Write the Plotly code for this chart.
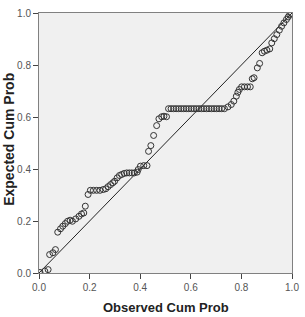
import plotly.graph_objects as go

observed = [0.004, 0.023, 0.036, 0.042, 0.055, 0.065,
            0.074, 0.085, 0.094, 0.104, 0.113, 0.123, 0.132, 0.145, 0.158, 0.168, 0.177,
            0.183, 0.194,
            0.203, 0.215, 0.228, 0.241, 0.254, 0.264, 0.273, 0.283, 0.292, 0.299, 0.309,
            0.318, 0.327, 0.337, 0.347, 0.357, 0.367, 0.377, 0.388, 0.392, 0.401, 0.414, 0.427,
            0.433, 0.442, 0.453, 0.465, 0.474, 0.485, 0.494, 0.504,
            0.512, 0.522, 0.532, 0.542, 0.552, 0.562, 0.572, 0.582, 0.592, 0.602, 0.612,
            0.622, 0.632, 0.642, 0.652, 0.662, 0.672, 0.682, 0.692, 0.702, 0.712, 0.722, 0.733,
            0.747, 0.760, 0.770, 0.780, 0.786, 0.792, 0.801, 0.812, 0.824, 0.835,
            0.843, 0.850, 0.863, 0.872,
            0.882, 0.891, 0.901, 0.912, 0.920, 0.930, 0.940, 0.950, 0.959, 0.968, 0.978,
            0.985, 0.991, 0.997]

expected = [0.002, 0.007, 0.013, 0.071, 0.078, 0.090,
            0.157, 0.170, 0.180, 0.190, 0.199, 0.203, 0.199, 0.208, 0.218, 0.227, 0.231,
            0.257, 0.302,
            0.318, 0.318, 0.318, 0.318, 0.321, 0.324, 0.332, 0.340, 0.347, 0.353, 0.366,
            0.375, 0.379, 0.383, 0.385, 0.385, 0.385, 0.385, 0.388, 0.398, 0.411, 0.413, 0.413,
            0.468, 0.490, 0.529, 0.567, 0.593, 0.601, 0.603, 0.601,
            0.632, 0.632, 0.632, 0.632, 0.632, 0.632, 0.632, 0.632, 0.632, 0.632, 0.632,
            0.632, 0.632, 0.632, 0.632, 0.632, 0.632, 0.632, 0.632, 0.632, 0.632, 0.632, 0.632,
            0.639, 0.648, 0.661, 0.680, 0.695, 0.706, 0.716, 0.716, 0.716, 0.716,
            0.747, 0.751, 0.789, 0.806,
            0.847, 0.853, 0.857, 0.862, 0.885, 0.901, 0.917, 0.934, 0.949, 0.962, 0.975,
            0.985, 0.994, 0.998]

ref_line = [0.0, 1.0]
tick_vals = [0.0, 0.2, 0.4, 0.6, 0.8, 1.0]
tick_text = ["0.0", "0.2", "0.4", "0.6", "0.8", "1.0"]

fig = go.Figure()
fig.add_trace(go.Scatter(x=ref_line, y=ref_line, mode="lines",
                         line=dict(color="#222222", width=1), hoverinfo="skip"))
fig.add_trace(go.Scatter(x=observed, y=expected, mode="markers",
                         marker=dict(symbol="circle-open", size=6, color="#333333",
                                     line=dict(color="#333333", width=1))))

axis_common = dict(range=[0, 1], tickvals=tick_vals, ticktext=tick_text,
                   showgrid=False, zeroline=False, showline=True, mirror=True,
                   linecolor="#808080", linewidth=1, ticks="outside", ticklen=5,
                   tickcolor="#444444", ticklabeloverflow="allow",
                   tickfont=dict(family="Liberation Sans, Arial", size=10, color="#555555"))

W, H = 305, 317
L, R, T, B = 39, 6, 13, 44
plot_w = W - L - R
plot_h = H - T - B

fig.update_layout(
    width=W, height=H,
    margin=dict(l=L, r=R, t=T, b=B),
    paper_bgcolor="white", plot_bgcolor="#f0f0f0",
    showlegend=False,
    xaxis=dict(**axis_common),
    yaxis=dict(**axis_common),
    annotations=[
        dict(text="<b>Observed Cum Prob</b>", x=0.5, xref="paper",
             y=(H - B - 307) / plot_h, yref="paper", xanchor="center", yanchor="middle",
             showarrow=False, font=dict(family="Liberation Sans, Arial", size=13, color="#222222")),
        dict(text="<b>Expected Cum Prob</b>", x=(8 - L) / plot_w, xref="paper",
             y=(H - B - 139) / plot_h, yref="paper", xanchor="center", yanchor="middle",
             showarrow=False, textangle=-90,
             font=dict(family="Liberation Sans, Arial", size=14, color="#222222")),
    ],
)
fig.write_html("out.html")
